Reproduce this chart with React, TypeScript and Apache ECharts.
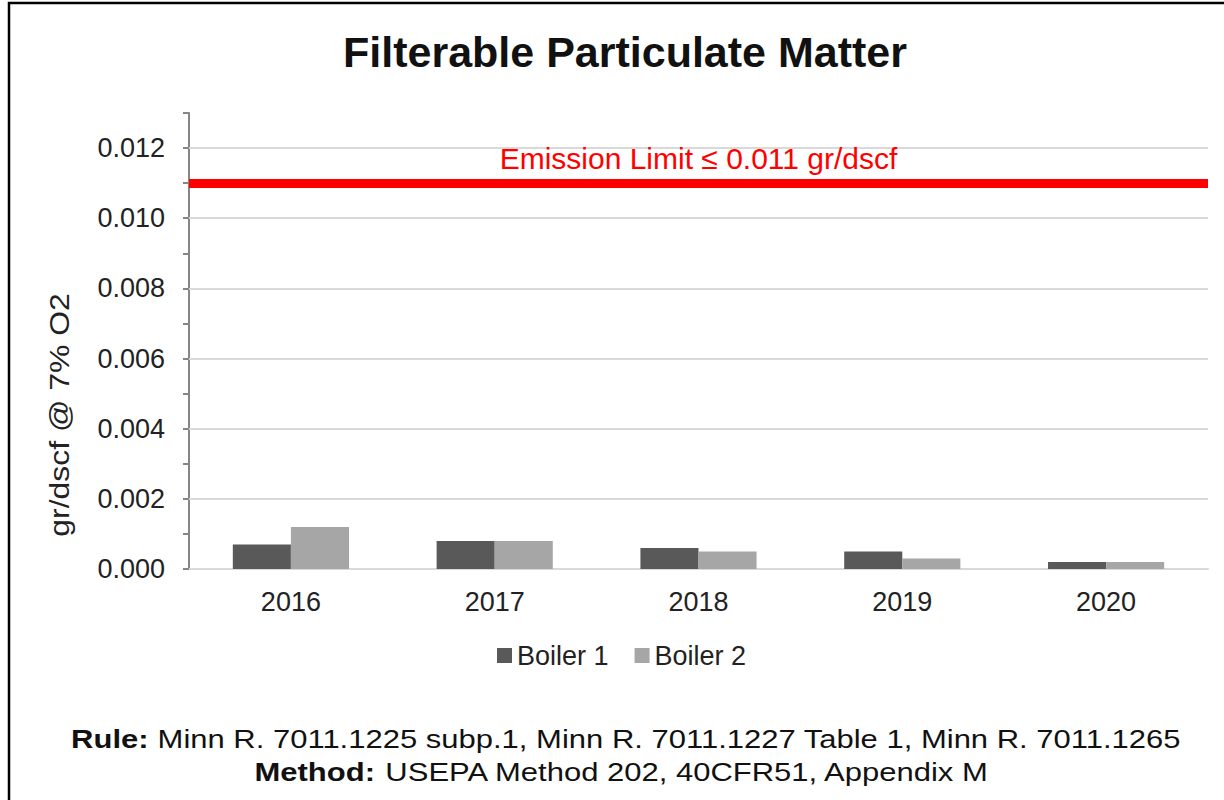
import React, { useEffect, useRef } from "react";
import * as echarts from "echarts";

const categories = ["2016", "2017", "2018", "2019", "2020"];
const boiler1 = [0.0007, 0.0008, 0.0006, 0.0005, 0.0002];
const boiler2 = [0.0012, 0.0008, 0.0005, 0.0003, 0.0002];
const gridValues = [0.002, 0.004, 0.006, 0.008, 0.01, 0.012];
const emissionLimit = 0.011;
const seriesNames = ["Boiler 1", "Boiler 2"];

const FONT = "'Liberation Sans', Arial, sans-serif";

export default function App() {
  const ref = useRef<HTMLDivElement>(null);
  useEffect(() => {
    if (!ref.current) return;
    const chart = echarts.init(ref.current, undefined, { renderer: "svg" });
    chart.setOption({
      animation: false,
      backgroundColor: "#ffffff",
      textStyle: { fontFamily: FONT },
      grid: { left: 189, top: 113, right: 16, bottom: 231, containLabel: false },
      legend: {
        data: seriesNames,
        left: 497,
        top: 642,
        padding: 0,
        itemWidth: 15,
        itemHeight: 15,
        itemGap: 26,
        icon: "rect",
        textStyle: { fontSize: 27, color: "#222", fontFamily: FONT },
      },
      xAxis: {
        type: "category",
        data: categories,
        axisLine: { lineStyle: { color: "#d9d9d9", width: 2 } },
        axisTick: { show: false },
        axisLabel: { fontSize: 27, color: "#222", margin: 19, fontFamily: FONT },
        splitLine: { show: false },
      },
      yAxis: {
        type: "value",
        min: 0,
        max: 0.013,
        interval: 0.001,
        axisLine: { show: true, lineStyle: { color: "#868686", width: 2 } },
        axisTick: { show: true, length: 6, lineStyle: { color: "#868686", width: 2 } },
        splitLine: { show: false },
        axisLabel: {
          fontSize: 27,
          color: "#222",
          margin: 24,
          fontFamily: FONT,
          formatter: (v: number) => {
            const k = Math.round(v * 1000);
            return k % 2 === 0 && k <= 12 ? (k / 1000).toFixed(3) : "";
          },
        },
      },
      series: [
        {
          name: seriesNames[0],
          type: "bar",
          data: boiler1,
          barGap: "0%",
          barCategoryGap: "43%",
          itemStyle: { color: "#595959" },
          markLine: {
            silent: true,
            symbol: "none",
            precision: 4,
            z: 1,
            label: { show: false },
            lineStyle: { color: "#d9d9d9", width: 2, type: "solid" },
            data: gridValues.map((v) => ({ yAxis: v })),
          },
        },
        {
          name: seriesNames[1],
          type: "bar",
          data: boiler2,
          itemStyle: { color: "#a6a6a6" },
          markLine: {
            silent: true,
            symbol: "none",
            precision: 4,
            z: 5,
            lineStyle: { color: "#ff0000", width: 9, type: "solid" },
            label: {
              show: true,
              position: "middle",
              distance: 10,
              formatter: "Emission Limit \u2264 0.011 gr/dscf",
              color: "#ff0000",
              fontSize: 30,
              fontFamily: FONT,
            },
            data: [{ yAxis: emissionLimit }],
          },
        },
      ],
      graphic: [
        {
          type: "rect",
          shape: { x: 9, y: 3, width: 1400, height: 1000 },
          style: { fill: "none", stroke: "#000", lineWidth: 2.5 },
          silent: true,
        },
        {
          type: "text",
          x: 625,
          y: 52,
          style: {
            text: "Filterable Particulate Matter",
            font: `bold 43px ${FONT}`,
            fill: "#111",
            textAlign: "center",
            textVerticalAlign: "middle",
          },
        },
        {
          type: "text",
          x: 59,
          y: 415,
          rotation: Math.PI / 2,
          scaleX: 1.14,
          style: {
            text: "gr/dscf @ 7% O2",
            font: `28px ${FONT}`,
            fill: "#222",
            textAlign: "center",
            textVerticalAlign: "middle",
          },
        },
        {
          type: "text",
          x: 626,
          y: 740,
          scaleX: 1.24,
          style: {
            text: "{b|Rule:} Minn R. 7011.1225 subp.1, Minn R. 7011.1227 Table 1, Minn R. 7011.1265",
            font: `25px ${FONT}`,
            fill: "#111",
            textAlign: "center",
            textVerticalAlign: "middle",
            rich: { b: { fontWeight: "bold", fontSize: 25, fontFamily: FONT, fill: "#111" } },
          },
        },
        {
          type: "text",
          x: 622,
          y: 773,
          scaleX: 1.24,
          style: {
            text: "{b|Method:} USEPA Method 202, 40CFR51, Appendix M",
            font: `25px ${FONT}`,
            fill: "#111",
            textAlign: "center",
            textVerticalAlign: "middle",
            rich: { b: { fontWeight: "bold", fontSize: 25, fontFamily: FONT, fill: "#111" } },
          },
        },
      ],
    });
    return () => chart.dispose();
  }, []);
  return (
    <div
      ref={ref}
      style={{ position: "absolute", left: 0, top: 0, width: 1224, height: 800 }}
    />
  );
}
